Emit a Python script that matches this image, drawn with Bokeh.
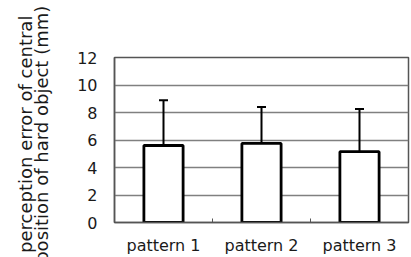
from bokeh.plotting import figure
from bokeh.models import FixedTicker, ColumnDataSource, Whisker, TeeHead
from bokeh.embed import file_html
from bokeh.resources import INLINE

categories = ["pattern 1", "pattern 2", "pattern 3"]
means = [5.6, 5.75, 5.15]
sds = [3.3, 2.65, 3.1]
y_ticks = [0, 2, 4, 6, 8, 10, 12]
y_label_lines = ["perception error of central", "position of hard object (mm)"]

xs = list(range(1, len(categories) + 1))
lower = [m - s for m, s in zip(means, sds)]
upper = [m + s for m, s in zip(means, sds)]
src = ColumnDataSource(dict(x=xs, top=means, lower=lower, upper=upper))

FONT = "DejaVu Sans"
TXT = "#1a1a1a"

p = figure(width=411, height=257, output_backend="svg", toolbar_location=None,
           x_range=(0.5, len(categories) + 0.5), y_range=(0, 12),
           min_border_left=114, min_border_right=3, min_border_top=57,
           min_border_bottom=35)
p.background_fill_color = "white"
p.border_fill_color = "white"
p.outline_line_color = "#555555"
p.outline_line_width = 1.5

p.vbar(x="x", top="top", width=0.4, bottom=0, source=src,
       fill_color="white", line_color="black", line_width=2.8)

w = Whisker(base="x", lower="lower", upper="upper", source=src,
            line_color="black", line_width=2,
            upper_head=TeeHead(size=9, line_color="black", line_width=2),
            lower_head=TeeHead(size=9, line_color="black", line_width=2))
p.add_layout(w)

# x axis
p.xaxis.ticker = FixedTicker(ticks=xs, minor_ticks=[x + 0.5 for x in xs[:-1]])
p.xaxis.major_label_overrides = {x: c for x, c in zip(xs, categories)}
p.xaxis.major_tick_in = 0
p.xaxis.major_tick_out = 0
p.xaxis.minor_tick_in = 4
p.xaxis.minor_tick_out = 0
p.xaxis.minor_tick_line_color = "#555555"
p.xaxis.axis_line_color = "#555555"
p.xaxis.axis_line_width = 1.5
p.xaxis.major_label_standoff = 13
p.xaxis.major_label_text_font = FONT
p.xaxis.major_label_text_font_size = "16px"
p.xaxis.major_label_text_color = TXT

# y axis
p.yaxis.ticker = FixedTicker(ticks=y_ticks)
p.yaxis.major_tick_in = 0
p.yaxis.major_tick_out = 0
p.yaxis.minor_tick_line_color = None
p.yaxis.axis_line_color = "#555555"
p.yaxis.axis_line_width = 1.5
p.yaxis.major_label_standoff = 17
p.yaxis.major_label_text_font = FONT
p.yaxis.major_label_text_font_size = "16px"
p.yaxis.major_label_text_color = TXT
p.yaxis.axis_label = "\n".join("\u00a0\u00a0" + s for s in y_label_lines)
p.yaxis.axis_label_text_font = FONT
p.yaxis.axis_label_text_font_size = "18px"
p.yaxis.axis_label_text_font_style = "normal"
p.yaxis.axis_label_text_color = TXT
p.yaxis.axis_label_text_line_height = 0.75
p.yaxis.axis_label_standoff = 22

p.xgrid.grid_line_color = None
p.ygrid.grid_line_color = "#808080"
p.ygrid.grid_line_width = 1.5

open("out.html", "w").write(file_html(p, INLINE))
